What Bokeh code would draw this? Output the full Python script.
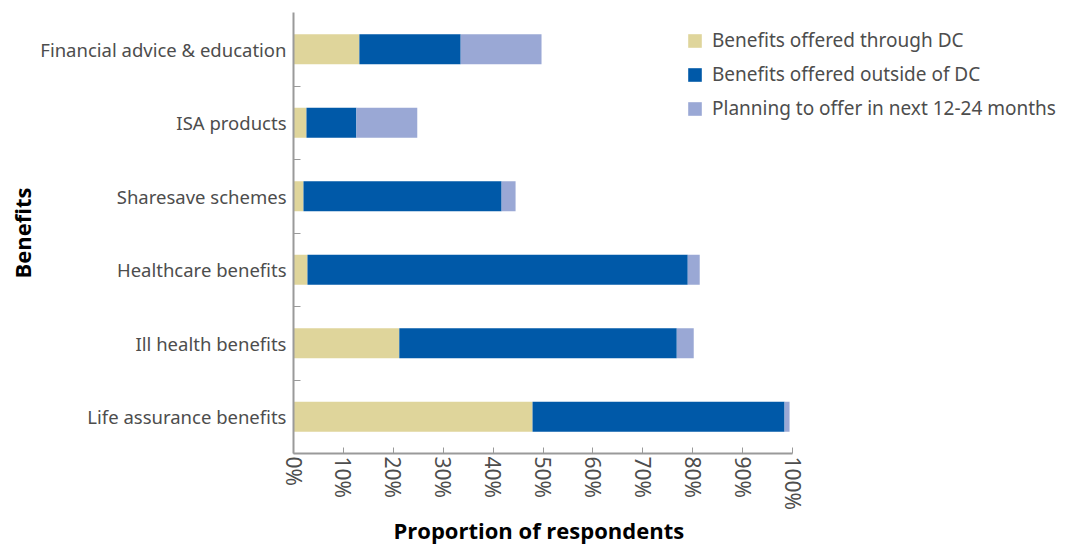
from bokeh.plotting import figure
from bokeh.models import (ColumnDataSource, FixedTicker, Legend, LegendItem, Range1d, Title)
from bokeh.embed import file_html
from bokeh.resources import INLINE

categories = ["Life assurance benefits", "Ill health benefits", "Healthcare benefits",
              "Sharesave schemes", "ISA products", "Financial advice & education"]
through_dc = [47.9, 21.2, 2.8, 2.0, 2.6, 13.2]
outside_dc = [50.5, 55.6, 76.2, 39.7, 10.0, 20.3]
planning = [1.0, 3.4, 2.4, 2.8, 12.2, 16.2]
series_names = ["Benefits offered through DC", "Benefits offered outside of DC",
                "Planning to offer in next 12-24 months"]
x_ticks = [0, 10, 20, 30, 40, 50, 60, 70, 80, 90, 100]

colors = ["#DFD59B", "#0059A8", "#9AA8D5"]
FONT = "Noto Sans"
TXT = "#4d4d4d"

ypos = list(range(len(categories)))
src = ColumnDataSource(dict(y=ypos, a=through_dc, b=outside_dc, c=planning))

p = figure(width=1079, height=544, output_backend="svg", toolbar_location=None,
           x_range=Range1d(0, 157.5), y_range=Range1d(-0.5, len(categories) - 0.5),
           min_border_left=293, min_border_right=0, min_border_top=12,
           min_border_bottom=89)
p.outline_line_color = None
p.grid.grid_line_color = None
p.background_fill_color = "white"

renderers = p.hbar_stack(["a", "b", "c"], y="y", height=0.41, color=colors,
                         source=src, line_color=None)

# x axis
xa = p.xaxis[0]
xa.bounds = (x_ticks[0], x_ticks[-1])
xa.ticker = FixedTicker(ticks=x_ticks, minor_ticks=[])
xa.major_label_overrides = {t: f"{t}%" for t in x_ticks}
xa.major_label_orientation = "vertical"
xa.major_tick_in = 6
xa.major_tick_out = 0
xa.major_label_standoff = 3
xa.axis_line_color = "#9a9a9a"
xa.major_tick_line_color = "#9a9a9a"
xa.axis_line_width = 2
xa.major_label_text_font = FONT
xa.major_label_text_font_size = "21px"
xa.major_label_text_color = TXT

xtitle = Title(text="Proportion of respondents", align="left", offset=100,
               text_font="Open Sans", text_font_style="bold", text_font_size="22px",
               text_color="black", standoff=0)
p.add_layout(xtitle, "below")

# y axis
ya = p.yaxis[0]
ya.ticker = FixedTicker(ticks=ypos, minor_ticks=[i + 0.5 for i in ypos[:-1]])
ya.major_label_overrides = {i: c for i, c in zip(ypos, categories)}
ya.major_tick_in = 0
ya.major_tick_out = 0
ya.minor_tick_in = 7
ya.minor_tick_out = 0
ya.minor_tick_line_color = "#9a9a9a"
ya.axis_line_color = "#9a9a9a"
ya.axis_line_width = 2
ya.major_label_standoff = 7
ya.major_label_text_font = FONT
ya.major_label_text_font_size = "18.5px"
ya.major_label_text_color = TXT
ya.axis_label = "Benefits"
ya.axis_label_text_font = "Open Sans"
ya.axis_label_text_font_style = "bold"
ya.axis_label_text_font_size = "22px"
ya.axis_label_text_color = "black"
ya.axis_label_standoff = 0

items = [LegendItem(label=n, renderers=[r]) for n, r in zip(series_names, renderers)]
legend = Legend(items=items, location=(393, 332), orientation="vertical",
                glyph_width=17, glyph_height=17, label_height=17, spacing=8,
                padding=0, margin=0, label_standoff=9,
                label_text_font=FONT, label_text_font_size="19px",
                label_text_color=TXT, border_line_color=None,
                background_fill_alpha=0)
p.add_layout(legend, "center")

open("out.html", "w").write(file_html(p, INLINE))
